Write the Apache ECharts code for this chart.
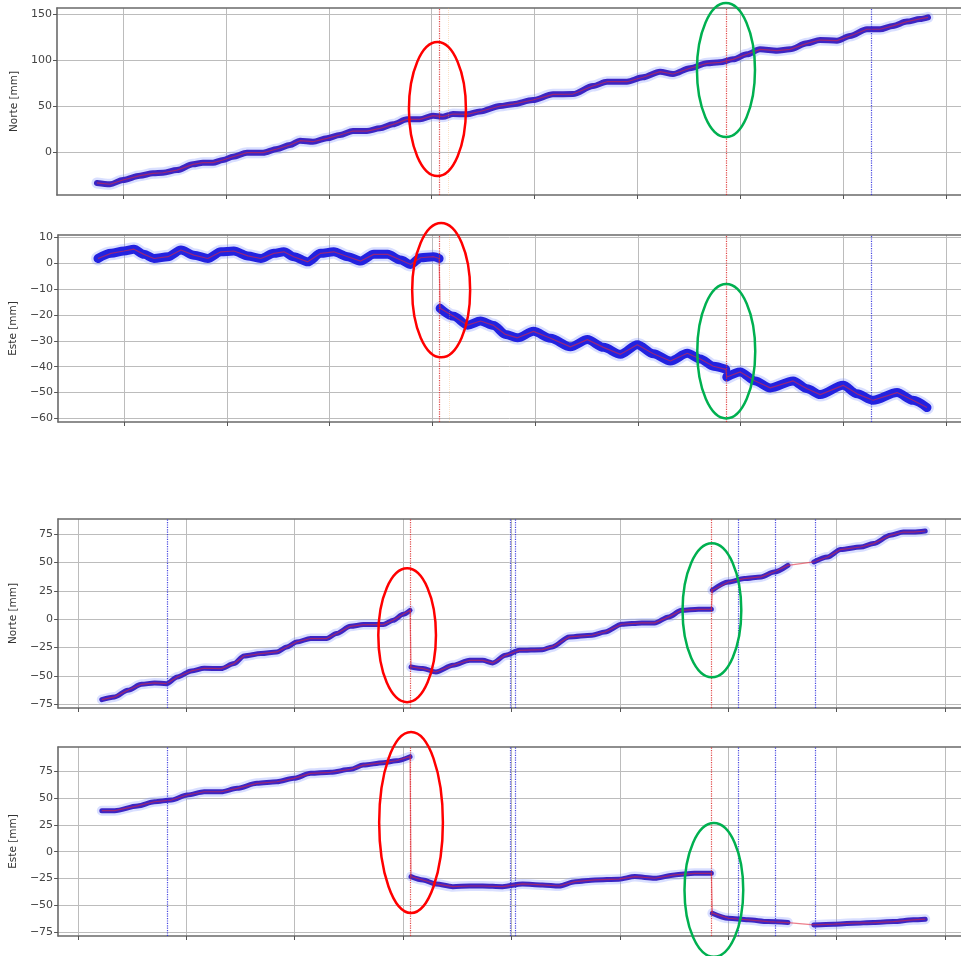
<!DOCTYPE html>
<html><head><meta charset="utf-8">
<script src="https://cdn.jsdelivr.net/npm/echarts@6/dist/echarts.min.js"></script>
<style>html,body{margin:0;padding:0;background:#fff}#c{width:961px;height:956px}</style>
</head><body><div id="c"></div>
<script>
// ---------- DATA (x in axis-tick units, y in mm) ----------
const xTicks = [0,1,2,3,4,5,6,7,8];
const yTicksTopNorte = [0,50,100,150];
const yTicksTopEste = [-60,-50,-40,-30,-20,-10,0,10];
const yTicksBot = [-75,-50,-25,0,25,50,75];

const topNorteT = [-0.253,-0.126,0,0.165,0.292,0.389,0.525,0.680,0.777,0.875,0.972,1.069,1.205,1.361,1.497,1.623,1.720,1.846,1.982,2.109,2.235,2.371,2.498,2.624,2.760,2.886,3.013,3.110,3.207,3.343,3.469,3.664,3.790,3.984,4.179,4.373,4.568,4.704,4.898,5.053,5.219,5.345,5.510,5.675,5.802,5.928,6.064,6.190,6.356,6.482,6.647,6.774,6.939,7.065,7.230,7.357,7.483,7.619,7.745,7.823];
const topNorteV = [-33.6,-35,-30.4,-25.7,-23.2,-22.5,-19.6,-13.4,-11.6,-11.6,-8.7,-5.1,-0.7,-0.7,3.3,7.6,12.3,11.2,14.9,18.5,22.8,22.8,25.7,30.1,35.5,35.5,39.5,38.4,41.3,41,44,50,52,56.5,62.7,63,71.7,76.4,76.4,81.2,87.3,84.8,91,96.4,97.5,100.7,106.2,111.6,110.1,111.6,118.1,121.7,121,126.1,133.4,133.4,137,141.7,144.6,146.4];

const topEsteT = [-0.253,-0.126,0,0.097,0.194,0.292,0.428,0.554,0.680,0.816,0.943,1.069,1.205,1.331,1.458,1.555,1.652,1.788,1.914,2.041,2.177,2.303,2.430,2.566,2.692,2.789,2.886,3.013,3.066,3.076,3.207,3.343,3.469,3.596,3.712,3.829,3.984,4.150,4.344,4.509,4.665,4.830,4.995,5.151,5.316,5.481,5.607,5.734,5.855,5.865,5.996,6.142,6.288,6.511,6.647,6.774,6.997,7.133,7.289,7.522,7.677,7.813];
const topEsteV = [1.9,3.9,4.8,5.5,3.5,1.9,2.6,5.2,3.2,1.9,4.5,4.8,2.9,1.9,3.9,4.5,2.6,0.6,3.9,4.5,2.6,0.9,3.5,3.5,1.3,-0.4,2.2,2.6,1.9,-17.4,-20.5,-23.9,-22.3,-24,-27.5,-28.8,-26.3,-29,-32.3,-29.5,-32.5,-35.2,-31.5,-35,-37.8,-34.8,-37,-39.8,-41,-44,-42,-45.5,-48.2,-45.5,-48.5,-50.8,-47.2,-50.5,-53,-50,-53,-55.8];

const botNorteT = [0.220,0.339,0.459,0.587,0.706,0.817,0.917,1.046,1.165,1.321,1.440,1.532,1.688,1.835,1.927,2.018,2.147,2.294,2.385,2.514,2.633,2.817,2.908,3.000,3.064,3.073,3.183,3.303,3.459,3.615,3.734,3.826,3.945,4.073,4.284,4.376,4.532,4.743,4.862,5.018,5.202,5.321,5.450,5.569,5.725,5.844,5.853,6.000,6.147,6.303,6.422,6.550,6.789,6.917,7.037,7.220,7.339,7.495,7.615,7.706,7.817];
const botNorteV = [-70.9,-68.5,-62.6,-57.4,-56.2,-56.8,-50.9,-45.6,-43.2,-43.5,-39.1,-32.4,-30.3,-28.8,-24.4,-20,-17,-17,-12.6,-6.2,-4.7,-4.7,-0.9,4.4,7.9,-42.1,-43.5,-46.5,-40.6,-36.2,-36.2,-38.5,-31.8,-27.4,-26.8,-24.4,-15.6,-14.1,-11.2,-4.4,-3.2,-3.2,2.1,7.9,8.8,8.8,25.6,32.9,35.9,37.4,41.7,47.6,50.6,55,61.5,63.8,66.8,74.1,77,77,77.9];

const botEsteT = [0.220,0.339,0.550,0.706,0.862,1.009,1.165,1.321,1.468,1.651,1.835,1.991,2.147,2.330,2.514,2.633,2.817,2.936,3.064,3.073,3.183,3.303,3.459,3.615,3.734,3.917,4.101,4.284,4.440,4.587,4.771,4.991,5.138,5.321,5.505,5.688,5.844,5.853,6.000,6.183,6.367,6.550,6.789,6.972,7.156,7.339,7.523,7.706,7.817];
const botEsteV = [38.1,38.1,42.5,46.4,48,52.7,55.7,55.7,58.9,63.5,65,68.2,72.8,73.8,76.5,80.5,82.7,84.5,88.3,-23.2,-26.3,-30,-32.5,-31.9,-31.9,-32.5,-30,-30.9,-31.9,-27.9,-26.3,-25.6,-23.2,-24.7,-21.6,-20.1,-20.1,-57.2,-61.9,-63.4,-65,-65.9,-68.1,-67.4,-66.5,-65.9,-65,-63.4,-62.8];

// breaks in the blue observation band (jumps / data gaps)
const topNorteBreaks = [];
const topEsteBreaks = [3.071, 5.860];
const botBreaks = [3.069, 5.849, 6.67];

// event lines (vertical dotted)
const topEventsRed = [3.071, 5.860];
const topEventsOrange = [3.158];
const topEventsBlue = [7.269];
const botEventsRed = [3.073, 5.844];
const botEventsBlue = [0.817, 3.991, 4.028, 6.092, 6.431, 6.798];

// annotation ellipses: [grid, xCenter, yCenter, xRadius, yRadius, colour]
const ellipses = [
  [0, 3.056, 46.7, 0.277, 72.8, '#ff0000'],
  [0, 5.860, 89.1, 0.282, 72.8, '#00b050'],
  [1, 3.086, -10.35, 0.282, 26.0, '#ff0000'],
  [1, 5.860, -34.0, 0.282, 26.0, '#00b050'],
  [2, 3.037, -14.1, 0.266, 59.1, '#ff0000'],
  [2, 5.849, 7.9, 0.271, 59.1, '#00b050'],
  [3, 3.073, 27.1, 0.294, 84.1, '#ff0000'],
  [3, 5.867, -35.6, 0.271, 62.2, '#00b050']
];

// ---------- BUILD ----------
const zip = (t, v) => t.map((x, i) => [x, v[i]]);
function withBreaks(t, v, br) {
  const out = [];
  for (let i = 0; i < t.length; i++) {
    if (i > 0) br.forEach(b => { if (t[i-1] < b && b <= t[i]) out.push([b, '-']); });
    out.push([t[i], v[i]]);
  }
  return out;
}
const minus = v => String(v).replace('-', '\u2212');
const SPINE = {color:'#6a6a6a', width:1.6};

const grids = [
  {left:57, top:8, right:0, height:187},
  {left:57, top:235, right:0, height:187},
  {left:53, top:519, right:0, height:189},
  {left:53, top:747, right:0, height:189}
];

const xr = [[-0.641, 8.144],[-0.641, 8.144],[-0.183, 8.147],[-0.183, 8.147]];
const xAxes = xr.map((r, i) => ({
  type:'value', gridIndex:i, min:r[0], max:r[1], position:'bottom',
  axisLine:{show:true, onZero:false, lineStyle:SPINE},
  axisTick:{show:true, inside:false, length:4, customValues:xTicks, lineStyle:{color:'#555'}},
  axisLabel:{show:false, customValues:xTicks},
  splitLine:{show:true, lineStyle:{color:'#bcbcbc', width:1}}
})).concat(xr.map((r, i) => ({
  type:'value', gridIndex:i, min:r[0], max:r[1], position:'top',
  axisLine:{show:true, onZero:false, lineStyle:SPINE},
  axisTick:{show:false}, axisLabel:{show:false}, splitLine:{show:false}
})));

const yDefs = [
  {min:-46.7, max:156.5, ticks:yTicksTopNorte, name:'Norte [mm]', gap:36},
  {min:-61.4, max:11.0, ticks:yTicksTopEste, name:'Este [mm]', gap:38},
  {min:-78.3, max:88.5, ticks:yTicksBot, name:'Norte [mm]', gap:35},
  {min:-78.4, max:97.3, ticks:yTicksBot, name:'Este [mm]', gap:37}
];
const yAxes = yDefs.map((d, i) => ({
  type:'value', gridIndex:i, min:d.min, max:d.max,
  name:d.name, nameLocation:'middle', nameGap:d.gap,
  nameTextStyle:{fontSize:10.5, color:'#333', fontFamily:'DejaVu Sans'},
  axisLine:{show:true, onZero:false, lineStyle:SPINE},
  axisTick:{show:true, inside:false, length:4, customValues:d.ticks, lineStyle:{color:'#555'}},
  axisLabel:{customValues:d.ticks, fontSize:11, color:'#444', margin:5, fontFamily:'DejaVu Sans', formatter:minus},
  splitLine:{show:true, lineStyle:{color:'#bcbcbc', width:1}}
}));

function vlines(red, blue, orange) {
  const d = [];
  red.forEach(x => d.push({xAxis:x, lineStyle:{color:'rgba(220,40,40,0.85)', type:'dotted', width:1.2}}));
  blue.forEach(x => d.push({xAxis:x, lineStyle:{color:'rgba(40,40,220,0.85)', type:'dotted', width:1.2}}));
  (orange||[]).forEach(x => d.push({xAxis:x, lineStyle:{color:'rgba(240,170,90,0.35)', type:'dotted', width:1}}));
  return {silent:true, symbol:['none','none'], label:{show:false}, animation:false, data:d};
}

const panels = [
  {t:topNorteT, v:topNorteV, br:topNorteBreaks, w:6, core:'#3b25c4', ml:vlines(topEventsRed, topEventsBlue, topEventsOrange)},
  {t:topEsteT, v:topEsteV, br:topEsteBreaks, w:9, core:'#2222e0', ml:vlines(topEventsRed, topEventsBlue, topEventsOrange)},
  {t:botNorteT, v:botNorteV, br:botBreaks, w:5, core:'#3b25c4', ml:vlines(botEventsRed, botEventsBlue)},
  {t:botEsteT, v:botEsteV, br:botBreaks, w:5, core:'#3b25c4', ml:vlines(botEventsRed, botEventsBlue)}
];

const series = [];
panels.forEach((p, i) => {
  const obs = withBreaks(p.t, p.v, p.br);
  series.push({type:'line', xAxisIndex:i, yAxisIndex:i, data:obs, showSymbol:false, silent:true, z:2,
    smooth:0.3, smoothMonotone:'x',
    lineStyle:{color:'rgba(120,140,255,0.28)', width:p.w+5, join:'round', cap:'round'}, markLine:p.ml});
  series.push({type:'line', xAxisIndex:i, yAxisIndex:i, data:obs, showSymbol:false, silent:true, z:3,
    smooth:0.3, smoothMonotone:'x',
    lineStyle:{color:p.core, width:p.w, join:'round', cap:'round'}});
  series.push({type:'line', xAxisIndex:i, yAxisIndex:i, data:zip(p.t, p.v), showSymbol:false, silent:true, z:4,
    lineStyle:{color:'rgba(225,40,60,0.6)', width:1.2}});
});

const chart = echarts.init(document.getElementById('c'), null, {renderer:'canvas'});
chart.setOption({animation:false, backgroundColor:'#fff', grid:grids, xAxis:xAxes, yAxis:yAxes, series});

chart.setOption({graphic: ellipses.map(e => {
  const p = chart.convertToPixel({gridIndex:e[0]}, [e[1], e[2]]);
  const q = chart.convertToPixel({gridIndex:e[0]}, [e[1] + e[3], e[2] + e[4]]);
  return {type:'ellipse', silent:true, z:100,
    shape:{cx:p[0], cy:p[1], rx:Math.abs(q[0]-p[0]), ry:Math.abs(q[1]-p[1])},
    style:{fill:'none', stroke:e[5], lineWidth:2.5}};
})});
</script></body></html>
